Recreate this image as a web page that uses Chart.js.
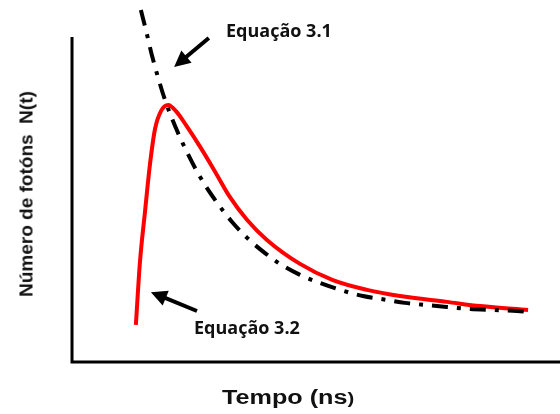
<!DOCTYPE html>
<html>
<head>
<meta charset="utf-8">
<script src="https://cdn.jsdelivr.net/npm/chart.js@4/dist/chart.umd.min.js"></script>
<style>
  html, body { margin: 0; padding: 0; background: #fff; }
  #wrap { position: relative; width: 560px; height: 414px; overflow: hidden; }
  canvas { position: absolute; left: 0; top: 0; }
  .lbl { position: absolute; white-space: pre; line-height: 1; color: #111; }
  .eq { font-family: "Open Sans", sans-serif; font-weight: 700; font-size: 18px; }
  .ytitle { font-family: "Liberation Sans", Arial, sans-serif; font-weight: 700; font-size: 19px;
            left: 26px; top: 194px; transform: translate(-50%, -50%) rotate(-90deg); }
  .xtitle { font-family: "Liberation Sans", Arial, sans-serif; font-weight: 700; font-size: 20px;
            left: 222px; top: 387px; transform: scaleX(1.26); transform-origin: left top; }
  .xtitle span { font-size: 16px; }
</style>
</head>
<body>
<div id="wrap">
  <canvas id="decay" width="560" height="414"></canvas>
  <div class="lbl eq" style="left:226px; top:21px;">Equação 3.1</div>
  <div class="lbl eq" style="left:194px; top:318px;">Equação 3.2</div>
  <div class="lbl ytitle">Número de fotóns  N(t)</div>
  <div class="lbl xtitle">Tempo (ns<span>)</span></div>
</div>
<script>
// Curva medida (Equação 3.2), tempo em ns e contagem em unidades arbitrárias
const measTime = [1.40, 1.49, 1.60, 1.71, 1.82, 1.95, 2.11, 2.28, 2.50, 2.81, 3.14, 3.46, 3.84, 4.28,
                  5.00, 5.72, 6.47, 7.19, 8.22, 8.95, 10.0];
const measCount = [11.4, 30.8, 46.2, 60.9, 71.7, 77.2, 79.1, 77.2, 72.9, 66.2, 58.5, 50.8, 43.7, 37.5,
                   30.2, 25.2, 22.2, 20.3, 18.5, 17.2, 16.0];

// Ajuste exponencial (Equação 3.1)
const fitTime = [1.51, 1.62, 1.75, 1.89, 2.04, 2.26, 2.52, 2.81, 3.14, 3.51, 3.84, 4.17, 4.56,
                 5.00, 5.44, 5.88, 6.38, 6.91, 7.30, 7.79, 8.25, 8.73, 9.23, 9.76, 10.0];
const fitCount = [108.3, 102.2, 94.5, 87.4, 80.6, 72.6, 64.6, 56.9, 49.8, 43.1, 38.2, 34.2, 30.2,
                  26.8, 24.3, 22.2, 20.3, 19.1, 18.2, 17.5, 16.9, 16.3, 16.0, 15.7, 15.4];

const axisTop = 100;

// Setas: [cauda t, cauda N, ponta t, ponta N]
const arrows = [
    [3.00, 99.7, 2.24, 90.8],
    [2.74, 15.7, 1.73, 21.5]
];

const toPoints = (ts, ns) => ts.map((t, i) => ({ x: t, y: ns[i] }));

const axesAndArrows = {
    id: 'axesAndArrows',
    beforeDatasetsDraw(chart) {
        const { ctx, scales: { x, y } } = chart;
        const x0 = x.getPixelForValue(0);
        const y0 = y.getPixelForValue(0);

        ctx.save();
        ctx.strokeStyle = '#000';
        ctx.lineWidth = 3;
        ctx.beginPath();
        ctx.moveTo(x0, y.getPixelForValue(axisTop));
        ctx.lineTo(x0, y0);
        ctx.lineTo(chart.width, y0);
        ctx.stroke();

        arrows.forEach((a) => {
            const tx = x.getPixelForValue(a[0]);
            const ty = y.getPixelForValue(a[1]);
            const hx = x.getPixelForValue(a[2]);
            const hy = y.getPixelForValue(a[3]);
            const ang = Math.atan2(hy - ty, hx - tx);
            const headLen = 16;
            const headW = 8;
            const bx = hx - Math.cos(ang) * headLen;
            const by = hy - Math.sin(ang) * headLen;

            ctx.lineWidth = 4;
            ctx.beginPath();
            ctx.moveTo(tx, ty);
            ctx.lineTo(bx + Math.cos(ang) * 2, by + Math.sin(ang) * 2);
            ctx.stroke();

            ctx.fillStyle = '#000';
            ctx.beginPath();
            ctx.moveTo(hx, hy);
            ctx.lineTo(bx + Math.sin(ang) * headW, by - Math.cos(ang) * headW);
            ctx.lineTo(bx - Math.sin(ang) * headW, by + Math.cos(ang) * headW);
            ctx.closePath();
            ctx.fill();
        });
        ctx.restore();
    }
};

new Chart(document.getElementById('decay'), {
    type: 'line',
    data: {
        datasets: [
            {
                label: 'Equação 3.1',
                data: toPoints(fitTime, fitCount),
                borderColor: '#000',
                borderWidth: 4,
                borderDash: [16, 9, 4, 9],
                borderCapStyle: 'butt',
                pointRadius: 0,
                cubicInterpolationMode: 'monotone',
                fill: false
            },
            {
                label: 'Equação 3.2',
                data: toPoints(measTime, measCount),
                borderColor: '#ff0000',
                borderWidth: 4,
                pointRadius: 0,
                cubicInterpolationMode: 'monotone',
                fill: false
            }
        ]
    },
    options: {
        responsive: false,
        animation: false,
        layout: { padding: 0 },
        plugins: {
            legend: { display: false },
            tooltip: { enabled: false }
        },
        scales: {
            x: { type: 'linear', display: false, min: -1.579, max: 10.70 },
            y: { type: 'linear', display: false, min: -16, max: 111.4 }
        }
    },
    plugins: [axesAndArrows]
});
</script>
</body>
</html>
